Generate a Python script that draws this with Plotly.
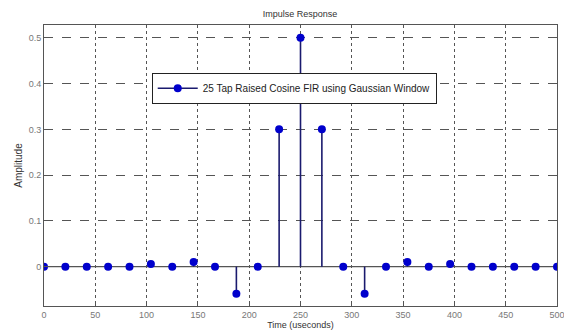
import numpy as np
import plotly.graph_objects as go

time_us = [round(i * 500 / 24, 3) for i in range(25)]
amplitude = [0.0, 0.0, 0.0, 0.0, 0.0, 0.006, 0.0, 0.01, 0.0, -0.059, 0.0, 0.3, 0.5,
             0.3, 0.0, -0.059, 0.0, 0.01, 0.0, 0.006, 0.0, 0.0, 0.0, 0.0, 0.0]
x_ticks = list(range(0, 501, 50))
y_ticks = [0, 0.1, 0.2, 0.3, 0.4, 0.5]
y_tick_labels = ["0", "0.1", "0.2", "0.3", "0.4", "0.5"]
series_name = "25 Tap Raised Cosine FIR using Gaussian Window"

stem_x, stem_y = [], []
for t, a in zip(time_us, amplitude):
    stem_x += [t, t, None]
    stem_y += [0, a, None]

fig = go.Figure()
fig.add_trace(go.Scatter(x=[0, 500], y=[0, 0], mode="lines",
                         line=dict(color="#555555", width=1.2),
                         showlegend=False, hoverinfo="skip"))
fig.add_trace(go.Scatter(x=stem_x, y=stem_y, mode="lines",
                         line=dict(color="#1a1a6e", width=1.6),
                         showlegend=False, hoverinfo="skip"))
fig.add_trace(go.Scatter(x=time_us, y=amplitude, mode="markers",
                         marker=dict(color="#0000cc", size=8, symbol="circle"),
                         name=series_name, showlegend=False))
# legend sample
fig.add_trace(go.Scatter(x=[None], y=[None], mode="lines+markers",
                         line=dict(color="#1a1a6e", width=1.6),
                         marker=dict(color="#0000cc", size=8),
                         name=series_name, showlegend=True))

font = "Liberation Sans, Arial, sans-serif"
fig.update_layout(
    width=564, height=336,
    margin=dict(l=44, r=7, t=25, b=30, autoexpand=False),
    paper_bgcolor="white", plot_bgcolor="white",
    font=dict(family=font, size=9, color="#444444"),
    title=dict(text="Impulse Response", x=0.532, xanchor="center", y=0.958, yanchor="middle",
               font=dict(size=9, color="#333333")),
    legend=dict(x=0.21, y=0.83, xanchor="left", yanchor="top",
                bgcolor="white", bordercolor="#222222", borderwidth=1,
                font=dict(size=10, color="#222222"), itemwidth=40),
    xaxis=dict(range=[0, 500], tickvals=x_ticks, showgrid=True,
               gridcolor="#555555", griddash="dot", gridwidth=1,
               zeroline=False, showline=True, linecolor="#555555", mirror=True,
               ticks="inside", ticklen=4, tickcolor="#555555",
               ticklabeloverflow="allow", automargin=False,
               title=dict(text="Time (useconds)", standoff=2, font=dict(size=9, color="#333333")),
               tickfont=dict(size=9, color="#777777")),
    yaxis=dict(range=[-0.086, 0.528], tickvals=y_ticks, ticktext=y_tick_labels, showgrid=True,
               gridcolor="#555555", griddash="dash", gridwidth=1,
               zeroline=False, showline=True, linecolor="#555555", mirror=True,
               ticks="inside", ticklen=4, tickcolor="#555555", automargin=False,
               title=dict(text="Amplitude", standoff=4, font=dict(size=10, color="#333333")),
               tickfont=dict(size=9, color="#777777")),
)
fig.write_html("out.html")
